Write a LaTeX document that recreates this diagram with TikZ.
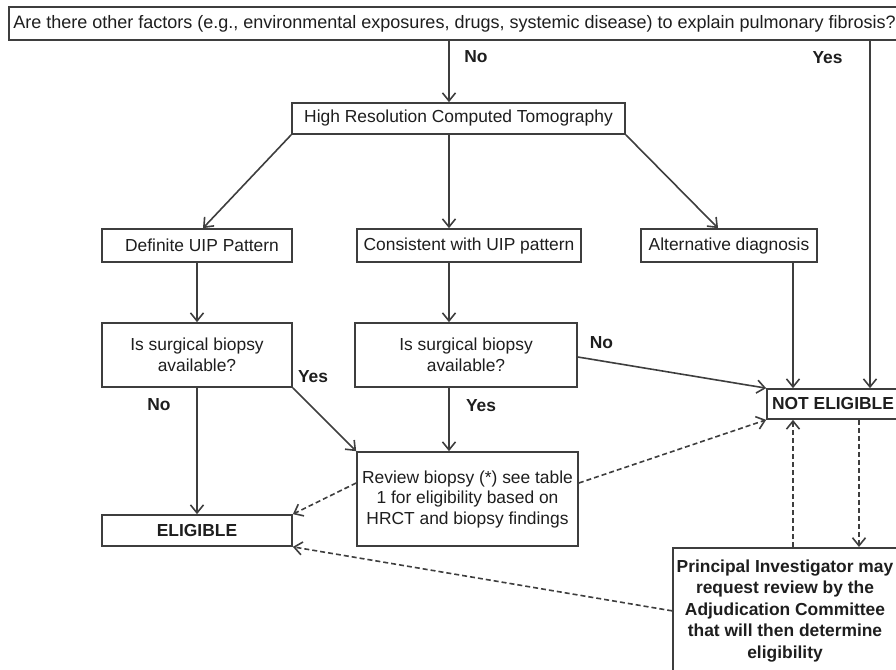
\documentclass[tikz,border=0pt]{standalone}
\usepackage{fontspec}
\setmainfont{Liberation Sans}
\usetikzlibrary{arrows.meta, positioning}
\definecolor{linegray}{RGB}{62,62,62}
\definecolor{textgray}{RGB}{30,30,30}

\begin{document}
\begin{tikzpicture}[
        x=1pt, y=1pt,
        box/.style={draw=linegray, line width=1.7pt, fill=white, text=textgray,
                    align=center, inner sep=0pt,
                    font=\fontsize{17.4}{20.5}\selectfont},
        arr/.style={-{Straight Barb[length=8pt, width=13pt]}, line width=1.6pt, linegray},
        dsh/.style={-{Straight Barb[length=8pt, width=13pt]}, line width=1.6pt, linegray,
                    dash pattern=on 5pt off 3pt},
        lbl/.style={text=textgray, font=\fontsize{17.4}{20.5}\selectfont\bfseries},
      ]
        \useasboundingbox (0,0) rectangle (896,-669);
        \clip (0,0) rectangle (896,-669);

        % Boxes
        \node[box, anchor=west, inner xsep=4.5pt, minimum height=33pt,
              font=\fontsize{18}{21}\selectfont] (quest) at (8,-23.5)
          {Are there other factors (e.g., environmental exposures, drugs, systemic disease) to explain pulmonary fibrosis?};
        \node[box, minimum width=333pt, minimum height=31pt] (hrct) at (458.5,-118.5)
          {High Resolution Computed Tomography};
        \node[box, minimum width=190pt, minimum height=33pt] (defuip) at (197,-245.5)
          {\hspace*{10pt}Definite UIP Pattern};
        \node[box, minimum width=224pt, minimum height=33pt] (consuip) at (469,-245.5)
          {Consistent with UIP pattern};
        \node[box, minimum width=176pt, minimum height=33pt] (altdiag) at (729,-245.5)
          {Alternative diagnosis};
        \node[box, minimum width=190pt, minimum height=64pt] (biopL) at (197,-355)
          {Is surgical biopsy\\available?};
        \node[box, minimum width=222pt, minimum height=64pt] (biopM) at (466,-355)
          {Is surgical biopsy\\available?};
        \node[box, minimum width=132pt, minimum height=30pt, font=\fontsize{17.4}{20.5}\selectfont\bfseries]
          (noteli) at (833,-404) {NOT ELIGIBLE};
        \node[box, minimum width=221pt, minimum height=94pt] (review) at (467.5,-499)
          {Review biopsy (*) see table\\1 for eligibility based on\\HRCT and biopsy findings};
        \node[box, minimum width=190pt, minimum height=31pt, font=\fontsize{17.4}{20.5}\selectfont\bfseries]
          (eligible) at (197,-530.5) {ELIGIBLE};
        \node[box, anchor=north, minimum width=224pt, minimum height=126pt,
              font=\fontsize{17.4}{21.5}\selectfont\bfseries] (pinv) at (785,-547)
          {Principal Investigator may\\request review by the\\Adjudication Committee\\that will then determine\\eligibility};

        % Columns for vertical connectors
        \coordinate (spine) at (449,0);
        \coordinate (colA)  at (793,0);
        \coordinate (colB)  at (859,0);
        \coordinate (colY)  at (870,0);

        % Solid paths
        \draw[arr] (quest.south -| spine) -- (hrct.north -| spine);
        \draw[arr] (quest.south -| colY) -- (noteli.north -| colY);
        \draw[arr] (hrct.south west) -- ([xshift=6pt]defuip.north);
        \draw[arr] (hrct.south -| spine) -- (consuip.north -| spine);
        \draw[arr] (hrct.south east) -- ([xshift=-11pt]altdiag.north);
        \draw[arr] (defuip.south) -- (biopL.north);
        \draw[arr] (consuip.south -| spine) -- (biopM.north -| spine);
        \draw[arr] (altdiag.south -| colA) -- (noteli.north -| colA);
        \draw[arr] (biopL.south) -- (eligible.north);
        \draw[arr] (biopL.south east) -- (review.north west);
        \draw[arr] (biopM.south -| spine) -- (review.north -| spine);
        \draw[arr] ([yshift=-2pt]biopM.east) -- (noteli.north west);

        % Dashed paths
        \draw[dsh] ([yshift=16pt]review.west) -- (eligible.north east);
        \draw[dsh] ([yshift=16pt]review.east) -- (noteli.south west);
        \draw[dsh] (pinv.north -| colA) -- (noteli.south -| colA);
        \draw[dsh] (noteli.south -| colB) -- (pinv.north -| colB);
        \draw[dsh] (pinv.west) -- (eligible.south east);

        % Answers
        \node[lbl] (noTop)  at (476,-57)   {No};
        \node[lbl] (yesTop) at (827.5,-58) {Yes};
        \node[lbl] (yesL)   at (313,-377)  {Yes};
        \node[lbl] (noL)    at (159,-405)  {No};
        \node[lbl] (noM)    at (601.5,-343){No};
        \node[lbl] (yesM)   at (481,-406)  {Yes};
      \end{tikzpicture}
\end{document}
